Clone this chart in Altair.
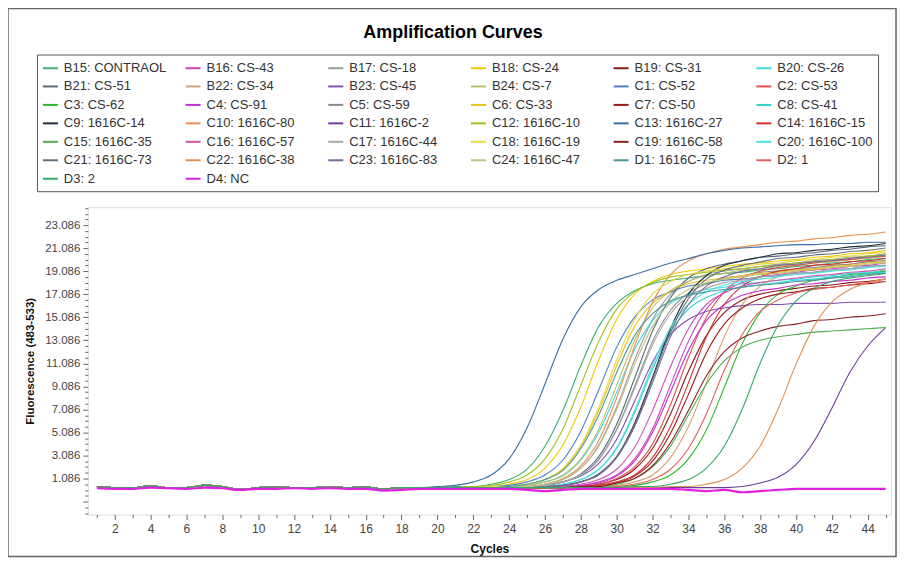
import altair as alt
import pandas as pd

# ---------------- data ----------------
cycles = list(range(1, 46))
# shared early baseline (cycles 1-17)
baseline_early = [0.4, 0.3, 0.3, 0.45, 0.3, 0.3, 0.5, 0.4, 0.15, 0.3, 0.35, 0.3, 0.3, 0.35, 0.3, 0.35, 0.2]

names = ["B15: CONTRAOL", "B16: CS-43", "B17: CS-18", "B18: CS-24", "B19: CS-31", "B20: CS-26",
         "B21: CS-51", "B22: CS-34", "B23: CS-45", "B24: CS-7", "C1: CS-52", "C2: CS-53",
         "C3: CS-62", "C4: CS-91", "C5: CS-59", "C6: CS-33", "C7: CS-50", "C8: CS-41",
         "C9: 1616C-14", "C10: 1616C-80", "C11: 1616C-2", "C12: 1616C-10", "C13: 1616C-27", "C14: 1616C-15",
         "C15: 1616C-35", "C16: 1616C-57", "C17: 1616C-44", "C18: 1616C-19", "C19: 1616C-58", "C20: 1616C-100",
         "C21: 1616C-73", "C22: 1616C-38", "C23: 1616C-83", "C24: 1616C-47", "D1: 1616C-75", "D2: 1",
         "D3: 2", "D4: NC"]

colors = ["#3cb371", "#d040c0", "#9a9a9a", "#f0c800", "#8b1a1a", "#40d8e0",
          "#5a6a7a", "#d8a070", "#8050b0", "#b8c070", "#4a7fc0", "#e05050",
          "#2eb82e", "#c030d0", "#8c8c8c", "#e8c020", "#a01818", "#30d0d0",
          "#1f2f3f", "#e89050", "#6a3d9a", "#9cc020", "#3a6ea5", "#d03030",
          "#4caf50", "#d050b0", "#aaaaaa", "#e8d840", "#8b2020", "#50e0e0",
          "#607080", "#e09050", "#7a6a9a", "#c0c080", "#4a9a9a", "#e06060",
          "#33aa66", "#e020e0"]

# values for cycles 18..45
b15 = [0.3,0.3,0.3,0.4,0.4,0.6,1.0,1.9,3.9,7.0,10.9,14.3,16.3,17.4,18.0,18.3,18.5,18.7,18.9,19.0,19.2,19.3,19.5,19.6,19.8,19.9,20.1,20.2]
b16 = [0.3,0.3,0.3,0.3,0.3,0.3,0.3,0.3,0.3,0.4,0.5,0.8,1.4,2.8,5.4,9.2,13.0,15.8,17.3,18.1,18.6,18.8,19.0,19.2,19.3,19.5,19.6,19.8]
b17 = [0.3,0.3,0.3,0.3,0.3,0.3,0.4,0.4,0.6,1.0,2.0,4.0,7.3,11.4,14.9,17.1,18.2,18.8,19.1,19.3,19.5,19.7,19.8,20.0,20.1,20.3,20.4,20.6]
b18 = [0.3,0.3,0.3,0.3,0.4,0.4,0.6,1.0,2.0,4.0,7.3,11.4,14.9,17.1,18.2,18.8,19.1,19.3,19.5,19.7,19.8,20.0,20.1,20.3,20.4,20.6,20.7,20.9]
b19 = [0.3,0.3,0.3,0.3,0.3,0.3,0.3,0.3,0.3,0.4,0.4,0.6,1.0,1.9,3.7,6.7,10.4,13.5,15.5,16.6,17.1,17.4,17.6,17.8,17.9,18.1,18.2,18.4]
b20 = [0.3,0.3,0.3,0.3,0.3,0.3,0.4,0.5,0.8,1.3,2.7,5.1,8.6,12.3,14.8,16.3,17.1,17.5,17.7,18.0,18.1,18.3,18.4,18.6,18.7,18.9,19.0,19.2]
b21 = [0.3,0.3,0.3,0.3,0.3,0.3,0.3,0.4,0.5,0.8,1.5,3.0,5.8,9.8,13.9,16.8,18.5,19.3,19.7,20.0,20.3,20.4,20.6,20.7,20.9,21.0,21.2,21.3]
b22 = [0.3,0.3,0.3,0.3,0.3,0.3,0.3,0.3,0.3,0.3,0.3,0.4,0.5,0.8,1.4,2.9,5.6,9.4,13.4,16.2,17.8,18.6,19.1,19.3,19.6,19.7,19.9,20.0]
b23 = [0.3,0.3,0.3,0.3,0.3,0.3,0.3,0.4,0.5,0.8,1.3,2.4,4.5,7.8,11.2,13.6,14.9,15.6,15.9,16.1,16.2,16.2,16.3,16.3,16.3,16.4,16.4,16.4]
b24 = [0.3,0.3,0.3,0.3,0.3,0.3,0.4,0.5,0.8,1.4,2.8,5.4,9.2,13.1,15.9,17.4,18.2,18.7,18.9,19.2,19.3,19.5,19.6,19.8,19.9,20.1,20.2,20.4]
c1 = [0.3,0.3,0.3,0.3,0.3,0.4,0.5,0.8,1.4,2.7,5.2,8.8,12.5,15.1,16.6,17.3,17.8,18.0,18.3,18.4,18.6,18.7,18.9,19.0,19.2,19.3,19.5,19.6]
c2 = [0.3,0.3,0.3,0.3,0.3,0.3,0.3,0.3,0.3,0.4,0.4,0.6,1.1,2.1,4.1,7.5,11.6,15.1,17.3,18.5,19.1,19.4,19.6,19.8,20.0,20.1,20.3,20.4]
c3 = [0.3,0.3,0.3,0.3,0.3,0.3,0.3,0.3,0.3,0.3,0.3,0.3,0.4,0.5,0.8,1.4,2.8,5.3,9.0,12.8,15.5,17.1,17.8,18.3,18.5,18.8,18.9,19.1]
c4 = [0.3,0.3,0.3,0.3,0.3,0.3,0.3,0.3,0.3,0.4,0.5,0.7,1.3,2.6,5.1,8.6,12.2,14.8,16.2,17.0,17.4,17.6,17.9,18.0,18.2,18.3,18.5,18.6]
c5 = [0.3,0.3,0.3,0.3,0.3,0.3,0.3,0.4,0.5,0.8,1.4,2.8,5.4,9.1,13.0,15.7,17.2,18.0,18.5,18.7,19.0,19.1,19.3,19.4,19.6,19.7,19.9,20.0]
c6 = [0.3,0.3,0.3,0.3,0.3,0.4,0.4,0.6,1.0,1.9,3.9,7.0,10.9,14.3,16.3,17.4,18.0,18.3,18.5,18.7,18.9,19.0,19.2,19.3,19.5,19.6,19.8,19.9]
c7 = [0.3,0.3,0.3,0.3,0.3,0.3,0.3,0.3,0.3,0.3,0.4,0.5,0.7,1.3,2.6,5.0,8.4,12.0,14.5,15.9,16.7,17.1,17.3,17.6,17.7,17.9,18.0,18.2]
c8 = [0.3,0.3,0.3,0.3,0.3,0.3,0.3,0.3,0.4,0.6,1.0,1.9,3.7,6.8,10.6,13.8,15.8,16.8,17.4,17.7,17.9,18.1,18.3,18.4,18.6,18.7,18.9,19.0]
c9 = [0.3,0.3,0.3,0.3,0.3,0.3,0.3,0.3,0.4,0.5,0.8,1.5,3.0,5.9,9.9,14.1,17.1,18.7,19.6,20.0,20.3,20.6,20.7,20.9,21.0,21.2,21.3,21.5]
c10 = [0.3,0.3,0.3,0.3,0.3,0.3,0.4,0.4,0.6,1.1,2.2,4.4,8.1,12.6,16.4,18.8,20.0,20.6,21.0,21.2,21.4,21.6,21.7,21.9,22.0,22.2,22.3,22.5]
c11 = [0.3,0.3,0.3,0.3,0.3,0.3,0.3,0.3,0.3,0.3,0.3,0.3,0.3,0.3,0.3,0.3,0.3,0.3,0.3,0.4,0.7,1.2,2.3,4.3,7.2,10.3,12.6,14.2]
c12 = [0.3,0.3,0.3,0.3,0.4,0.5,0.8,1.4,2.8,5.4,9.2,13.0,15.8,17.3,18.1,18.6,18.8,19.0,19.2,19.3,19.5,19.6,19.8,19.9,20.1,20.2,20.4,20.5]
c13 = [0.3,0.3,0.4,0.5,0.8,1.4,2.8,5.5,9.3,13.2,16.0,17.5,18.3,18.8,19.3,19.8,20.2,20.6,20.9,21.1,21.2,21.3,21.4,21.4,21.5,21.5,21.6,21.6]
c14 = [0.3,0.3,0.3,0.3,0.3,0.3,0.3,0.3,0.3,0.3,0.4,0.5,0.8,1.4,2.9,5.6,9.4,13.4,16.2,17.8,18.6,19.1,19.3,19.6,19.7,19.9,20.0,20.2]
c15 = [0.3,0.3,0.3,0.3,0.3,0.3,0.3,0.3,0.3,0.3,0.4,0.4,0.6,1.1,2.1,3.9,6.6,9.3,11.3,12.5,13.1,13.4,13.6,13.8,13.9,14.0,14.1,14.2]
c16 = [0.3,0.3,0.3,0.3,0.3,0.3,0.3,0.3,0.3,0.4,0.6,1.0,1.9,3.8,7.0,10.8,14.1,16.2,17.2,17.8,18.1,18.3,18.5,18.7,18.8,19.0,19.1,19.3]
c17 = [0.3,0.3,0.3,0.3,0.3,0.3,0.3,0.4,0.5,0.8,1.4,2.7,5.3,8.9,12.7,15.4,16.9,17.6,18.1,18.3,18.6,18.7,18.9,19.0,19.2,19.3,19.5,19.6]
c18 = [0.3,0.3,0.3,0.3,0.3,0.4,0.4,0.6,1.0,2.0,4.0,7.3,11.4,14.9,17.1,18.2,18.8,19.1,19.3,19.5,19.7,19.8,20.0,20.1,20.3,20.4,20.6,20.7]
c19 = [0.3,0.3,0.3,0.3,0.3,0.3,0.3,0.3,0.3,0.3,0.4,0.4,0.7,1.1,2.2,4.2,7.0,10.0,12.1,13.3,13.9,14.3,14.5,14.8,14.9,15.1,15.2,15.4]
c20 = [0.3,0.3,0.3,0.3,0.3,0.3,0.3,0.3,0.4,0.6,1.0,1.9,3.8,7.0,10.9,14.2,16.2,17.3,17.9,18.2,18.4,18.6,18.8,18.9,19.1,19.2,19.4,19.5]
c21 = [0.3,0.3,0.3,0.3,0.3,0.3,0.3,0.3,0.4,0.5,0.8,1.5,3.0,5.7,9.7,13.8,16.7,18.4,19.2,19.6,19.9,20.2,20.3,20.5,20.6,20.8,20.9,21.1]
c22 = [0.3,0.3,0.3,0.3,0.3,0.3,0.3,0.3,0.3,0.3,0.3,0.3,0.3,0.3,0.3,0.4,0.4,0.6,1.0,2.0,3.9,7.1,11.0,14.3,16.4,17.5,18.1,18.4]
c23 = [0.3,0.3,0.3,0.3,0.3,0.3,0.3,0.3,0.4,0.5,0.8,1.4,2.9,5.6,9.4,13.4,16.2,17.8,18.6,19.1,19.3,19.6,19.7,19.9,20.0,20.2,20.3,20.5]
c24 = [0.3,0.3,0.3,0.3,0.3,0.3,0.4,0.4,0.6,1.0,2.0,3.9,7.1,11.0,14.3,16.4,17.5,18.1,18.4,18.6,18.8,18.9,19.1,19.2,19.4,19.5,19.7,19.8]
d1 = [0.3,0.3,0.3,0.3,0.3,0.3,0.4,0.6,1.0,1.8,3.7,6.6,10.3,13.5,15.4,16.5,17.0,17.3,17.5,17.7,17.9,18.0,18.2,18.3,18.5,18.6,18.8,18.9]
d2 = [0.3,0.3,0.3,0.3,0.3,0.3,0.3,0.3,0.3,0.3,0.3,0.3,0.4,0.6,1.0,1.9,3.7,6.7,10.5,13.6,15.6,16.6,17.2,17.5,17.7,17.9,18.1,18.2]
d3 = [0.3,0.3,0.3,0.3,0.3,0.3,0.3,0.3,0.3,0.3,0.3,0.3,0.3,0.4,0.4,0.6,1.0,2.0,3.9,7.1,11.1,14.4,16.5,17.6,18.2,18.5,18.7,18.9]
# negative control, all 45 cycles
d4 = [0.25,0.2,0.2,0.3,0.25,0.2,0.3,0.25,0.1,0.2,
      0.2,0.25,0.2,0.25,0.2,0.2,0.05,0.1,0.2,0.2,
      0.2,0.2,0.2,0.2,0.1,0.0,0.1,0.2,0.2,0.2,
      0.2,0.2,0.2,0.1,0.0,0.1,-0.1,0.0,0.1,0.2,
      0.2,0.2,0.2,0.2,0.2]

series = [b15, b16, b17, b18, b19, b20, b21, b22, b23, b24,
          c1, c2, c3, c4, c5, c6, c7, c8, c9, c10, c11, c12,
          c13, c14, c15, c16, c17, c18, c19, c20, c21, c22, c23, c24,
          d1, d2, d3, d4]

title_text = "Amplification Curves"

# ---------------- table ----------------
rows = []
for i, (name, vals) in enumerate(zip(names, series)):
    full = vals if len(vals) == 45 else baseline_early + vals
    for c, v in zip(cycles, full):
        rows.append({"Sample": name, "Cycle": c, "Fluor": v, "idx": i})
df = pd.DataFrame(rows)

x_ticks = list(range(1, 46))
y_ticks = [round(1.086 + 0.5 * k, 3) for k in range(-6, 48)]

FONT = "Liberation Sans"
MAJOR_Y = "abs((datum.value - 1.086) / 2 - round((datum.value - 1.086) / 2)) < 0.01"

x_axis = alt.Axis(
    values=x_ticks,
    labelExpr="datum.value % 2 == 0 ? datum.value : ''",
    tickSize={"condition": {"test": "datum.value % 2 == 0", "value": 5}, "value": 3},
    labelOverlap=False, grid=False, domain=False,
    tickColor="#666", labelColor="#444", labelFont=FONT, labelFontSize=12,
    labelPadding=4,
    title="Cycles", titleFont=FONT, titleFontSize=12, titleFontWeight="bold",
    titleColor="#111", titleY=34, titleBaseline="middle",
)
y_axis = alt.Axis(
    values=y_ticks,
    labelExpr=MAJOR_Y + " && datum.value > 0 ? format(datum.value, '.3f') : ''",
    tickSize={"condition": {"test": MAJOR_Y, "value": 5}, "value": 3},
    labelOverlap=False, grid=False, domain=False,
    tickColor="#666", labelColor="#444", labelFont=FONT, labelFontSize=11.5,
    labelPadding=3,
    title="Fluorescence (483-533)", titleFont=FONT, titleFontSize=11.5, titleFontWeight="bold",
    titleColor="#111", titleX=-57, titleY=154, titleAlign="center", titleBaseline="middle",
)

legend = alt.Legend(
    title=None, orient="none", legendX=-51, legendY=-153,
    direction="horizontal", columns=6, gridAlign="all", symbolLimit=60,
    symbolType="stroke", symbolSize=225, symbolStrokeWidth=2,
    labelFont=FONT, labelFontSize=13, labelColor="#333", labelOffset=5, labelLimit=220,
    rowPadding=2.5, columnPadding=15, padding=5,
    strokeColor="#555", fillColor="white",
)

lines = alt.Chart(df).mark_line(interpolate="monotone").encode(
    x=alt.X("Cycle:Q", scale=alt.Scale(domain=[0.5, 45.3], nice=False, zero=False), axis=x_axis),
    y=alt.Y("Fluor:Q", scale=alt.Scale(domain=[-2.03, 24.65], nice=False, zero=False), axis=y_axis),
    color=alt.Color("Sample:N", scale=alt.Scale(domain=names, range=colors), legend=legend),
    strokeWidth=alt.condition(alt.datum.Sample == "D4: NC", alt.value(2.2), alt.value(1.1)),
    order=alt.Order("Cycle:Q"),
)

frame = alt.Chart(alt.Data(values=[{"f": 1}])).mark_rect(
    filled=False, stroke="#666", strokeWidth=1.5
).encode(
    x=alt.value(-80), x2=alt.value(810), y=alt.value(-199), y2=alt.value(350)
)

title = alt.Chart(alt.Data(values=[{"t": title_text}])).mark_text(
    font=FONT, fontSize=18, fontWeight="bold", color="#000", align="center", baseline="middle"
).encode(
    text="t:N", x=alt.value(366), y=alt.value(-175)
)

chart = alt.layer(frame, title, lines).properties(
    width=805, height=308,
    padding={"left": 80, "top": 199, "right": 10, "bottom": 47},
    autosize=alt.AutoSizeParams(type="none"),
).configure_view(stroke="#777", strokeWidth=1.5).configure(background="white")

chart.save("out.html", embed_options={"renderer": "svg", "actions": False})
